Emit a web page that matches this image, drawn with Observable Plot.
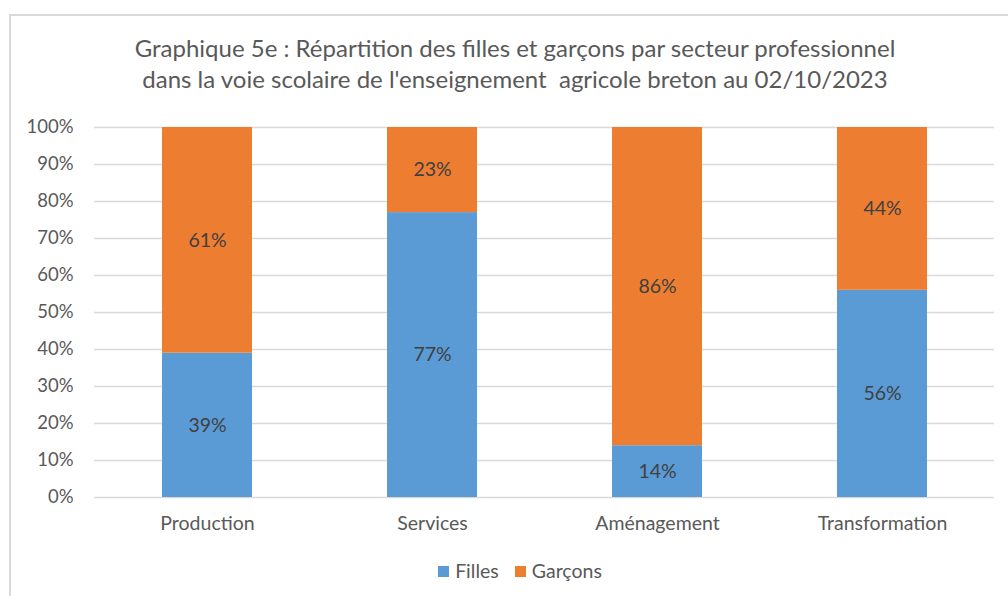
<!DOCTYPE html>
<html>
<head>
<meta charset="utf-8">
<script src="https://cdn.jsdelivr.net/npm/d3@7"></script>
<script src="https://cdn.jsdelivr.net/npm/@observablehq/plot@0.6"></script>
<style>
  html, body { margin: 0; padding: 0; background: #fff; }
  #wrap { position: relative; width: 1008px; height: 596px; overflow: hidden; font-family: Lato, "Open Sans", sans-serif; }
  #frame { position: absolute; left: 9px; top: 14px; width: 1100px; height: 700px; border-left: 2px solid #d9d9d9; border-top: 2px solid #d9d9d9; }
  #title { position: absolute; left: 15px; width: 1000px; top: 32px; text-align: center; color: #595959; font-size: 24px; line-height: 31px; }
  #chart { position: absolute; left: 0; top: 0; }
  #legend { position: absolute; left: 15px; width: 1010px; top: 559px; text-align: center; color: #595959; font-size: 19.5px; }
  #legend span.item { display: inline-block; margin: 0 8px; }
  #legend span.sw { display: inline-block; width: 11px; height: 11px; margin-right: 6px; vertical-align: 1px; }
</style>
</head>
<body>
<div id="wrap">
  <div id="frame"></div>
  <div id="chart"></div>
  <div id="title">Graphique 5e : Répartition des filles et garçons par secteur professionnel<br>dans la voie scolaire de l'enseignement&nbsp; agricole breton au 02/10/2023</div>
  <div id="legend"></div>
</div>
<script>
const categories = ["Production", "Services", "Aménagement", "Transformation"];
const series = ["Filles", "Garçons"];
const filles = [39, 77, 14, 56];
const garcons = [61, 23, 86, 44];
const yTicks = [0, 10, 20, 30, 40, 50, 60, 70, 80, 90, 100];
const colors = ["#5B9BD5", "#ED7D31"];

const data = [];
categories.forEach((c, i) => {
  data.push({category: c, series: series[0], value: filles[i]});
  data.push({category: c, series: series[1], value: garcons[i]});
});

const chart = Plot.plot({
  width: 1008,
  height: 596,
  marginLeft: 94,
  marginRight: 14,
  marginTop: 127,
  marginBottom: 99,
  style: {fontFamily: "Lato, 'Open Sans', sans-serif", fontSize: "19px", color: "#595959", background: "transparent"},
  x: {domain: categories, paddingInner: 0.6, paddingOuter: 0.3, label: null},
  y: {domain: [0, 100], label: null},
  color: {domain: series, range: colors},
  marks: [
    Plot.gridY(yTicks, {stroke: "#d9d9d9", strokeOpacity: 1, strokeWidth: 1.5}),
    Plot.barY(data, Plot.stackY({x: "category", y: "value", z: "series", fill: "series", order: series})),
    Plot.text(data, Plot.stackY({x: "category", y: "value", z: "series", order: series, text: d => d.value + "%", fill: "#404040", fontSize: 19.5})),
    Plot.axisY(yTicks, {tickFormat: d => d + "%", tickSize: 0, tickPadding: 21, label: null, fill: "#595959", fontSize: 18.5}),
    Plot.axisX({tickSize: 0, tickPadding: 19, label: null, fill: "#595959", fontSize: 19.5})
  ]
});
document.getElementById("chart").appendChild(chart);

const legend = document.getElementById("legend");
series.forEach((s, i) => {
  const item = document.createElement("span");
  item.className = "item";
  const sw = document.createElement("span");
  sw.className = "sw";
  sw.style.background = colors[i];
  item.appendChild(sw);
  item.appendChild(document.createTextNode(s));
  legend.appendChild(item);
});
</script>
</body>
</html>
